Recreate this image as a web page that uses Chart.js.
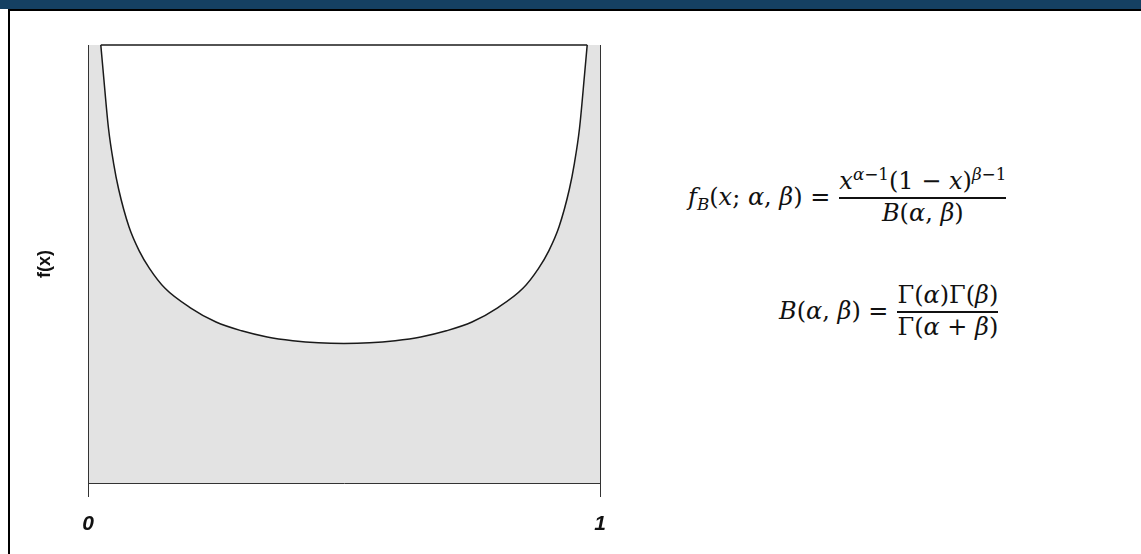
<!DOCTYPE html>
<html lang="en">
<head>
<meta charset="UTF-8">
<title>Beta distribution</title>
<script src="https://cdn.jsdelivr.net/npm/chart.js@4"></script>
<style>
  html, body { margin: 0; padding: 0; background: #fff; }
  body { width: 1141px; height: 554px; position: relative; overflow: hidden; }
  .topbar { position: absolute; left: 0; top: 0; width: 1141px; height: 9px; background: #154062; }
  .frame { position: absolute; left: 8px; top: 9px; right: 0; bottom: 0; border-left: 2px solid #000; border-top: 2px solid #000; }
  #chartBox { position: absolute; left: 0; top: 0; width: 640px; height: 554px; }
  .eq { position: absolute; font-family: 'DejaVu Serif', serif; font-size: 24px; color: #111; display: flex; align-items: center; white-space: nowrap; line-height: 1.15; }
  .frac { display: inline-flex; flex-direction: column; align-items: stretch; margin-left: 9px; }
  .frac .num { padding: 0 0 1px; text-align: center; }
  .frac .den { border-top: 2px solid #111; padding: 1px 0 0; text-align: center; }
  sup, sub { font-size: 0.7em; line-height: 0; }
  sup { vertical-align: 0.55em; }
  sub { vertical-align: -0.3em; }
  #eq1 { left: 688px; top: 168px; }
  #eq2 { left: 779px; top: 282px; }
</style>
</head>
<body>
<div class="topbar"></div>
<div class="frame"></div>
<div id="chartBox"><canvas id="betaChart" width="640" height="554"></canvas></div>

<div class="eq" id="eq1">
  <span><i>f</i><sub><i>B</i></sub>(<i>x</i>; <i>α</i>, <i>β</i>) =</span>
  <span class="frac">
    <span class="num"><i>x</i><sup><i>α</i>−1</sup>(1 − <i>x</i>)<sup><i>β</i>−1</sup></span>
    <span class="den"><i>B</i>(<i>α</i>, <i>β</i>)</span>
  </span>
</div>
<div class="eq" id="eq2">
  <span><i>B</i>(<i>α</i>, <i>β</i>) =</span>
  <span class="frac">
    <span class="num">Γ(<i>α</i>)Γ(<i>β</i>)</span>
    <span class="den">Γ(<i>α</i> + <i>β</i>)</span>
  </span>
</div>

<script>
// density curve read along x (0..1), U shaped, cut off at the top of the plot
const curveX = [0.025, 0.03, 0.04, 0.05, 0.06, 0.08, 0.10, 0.12, 0.15, 0.20, 0.25, 0.30, 0.35, 0.40, 0.45, 0.50,
                0.55, 0.60, 0.65, 0.70, 0.75, 0.80, 0.85, 0.88, 0.90, 0.92, 0.94, 0.95, 0.96, 0.97, 0.975];
const curveY = [2.00, 1.87, 1.62, 1.46, 1.34, 1.17, 1.06, 0.98, 0.89, 0.80, 0.735, 0.695, 0.667, 0.650, 0.640, 0.637,
                0.640, 0.650, 0.667, 0.695, 0.735, 0.80, 0.89, 0.98, 1.06, 1.17, 1.34, 1.46, 1.62, 1.87, 2.00];
const xTicks = [0, 1];
const yMax = 2;

const curvePoints = curveX.map((x, i) => ({ x: x, y: curveY[i] }));
// flat edge where the curve leaves the plot
const topEdge = [
    { x: curveX[0], y: yMax },
    { x: curveX[curveX.length - 1], y: yMax }
];

// grey plot background, the white area above the curve is painted by the fill
const plotShade = {
    id: 'plotShade',
    beforeDraw(chart) {
        const { ctx, chartArea: a } = chart;
        ctx.save();
        ctx.fillStyle = '#e3e3e3';
        ctx.fillRect(a.left, a.top, a.right - a.left, a.bottom - a.top);
        ctx.restore();
    }
};

const ctx = document.getElementById('betaChart').getContext('2d');
new Chart(ctx, {
    type: 'scatter',
    data: {
        datasets: [
            {
                data: curvePoints,
                showLine: true,
                borderColor: '#1a1a1a',
                borderWidth: 1.5,
                backgroundColor: '#ffffff',
                fill: 'end',
                pointRadius: 0,
                cubicInterpolationMode: 'monotone'
            },
            {
                // drawn last so the white fill does not cover it
                data: topEdge,
                order: -1,
                clip: false,
                showLine: true,
                borderColor: '#1a1a1a',
                borderWidth: 1.5,
                fill: false,
                pointRadius: 0
            }
        ]
    },
    options: {
        responsive: false,
        animation: false,
        layout: { padding: { top: 45, left: 0, right: 0, bottom: 0 } },
        plugins: {
            legend: { display: false },
            tooltip: { enabled: false }
        },
        scales: {
            x: {
                type: 'linear',
                min: 0,
                max: 1,
                afterBuildTicks: s => { s.ticks = xTicks.map(v => ({ value: v })); },
                afterFit: s => { s.height = 71; },
                ticks: {
                    callback: v => String(v),
                    color: '#111',
                    padding: 15,
                    font: { family: 'Liberation Sans', size: 21, weight: 'bold', style: 'italic' }
                },
                grid: { display: true, drawOnChartArea: false, drawTicks: true, tickLength: 14, color: '#333', lineWidth: 1 },
                border: { display: true, color: '#333', width: 1 }
            },
            y: {
                min: 0,
                max: yMax,
                afterFit: s => { s.width = 88; },
                ticks: { display: false },
                grid: { display: false },
                border: { display: true, color: '#333', width: 1 },
                title: {
                    display: true,
                    text: 'f(x)',
                    color: '#111',
                    padding: { top: 34, bottom: 0 },
                    font: { family: 'Liberation Sans', size: 18, weight: 'bold' }
                }
            },
            y2: {
                position: 'right',
                min: 0,
                max: yMax,
                afterFit: s => { s.width = 40; },
                ticks: { display: false },
                grid: { display: false },
                border: { display: true, color: '#333', width: 1 }
            }
        }
    },
    plugins: [plotShade]
});
</script>
</body>
</html>
